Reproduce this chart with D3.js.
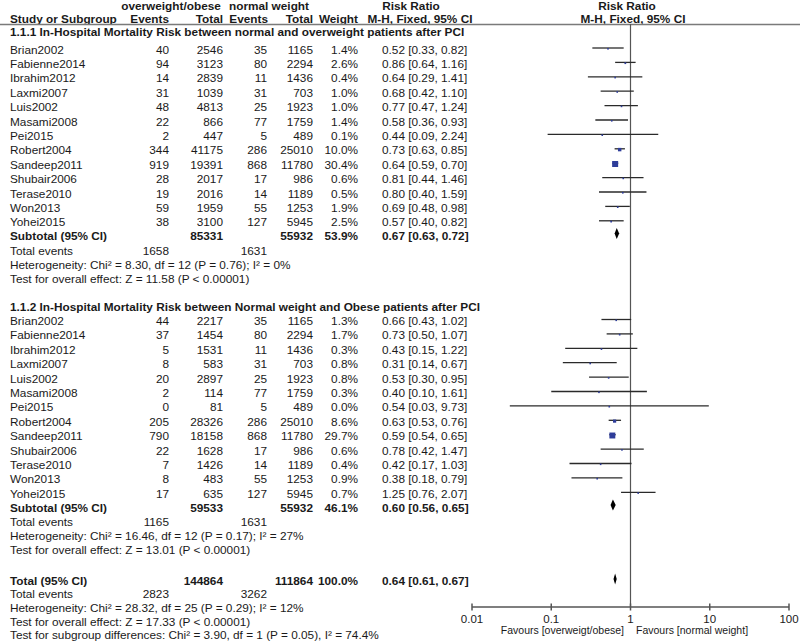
<!DOCTYPE html>
<html><head><meta charset="utf-8">
<script src="https://cdn.jsdelivr.net/npm/d3@7"></script>
<style>
html,body{margin:0;padding:0;background:#fff;}
text{font-family:"Liberation Sans",Arial,sans-serif;fill:#1a1a1a;}
</style></head>
<body><svg id="c" width="800" height="644"></svg>
<script>
const studies = ["Brian2002","Fabienne2014","Ibrahim2012","Laxmi2007","Luis2002","Masami2008","Pei2015","Robert2004","Sandeep2011","Shubair2006","Terase2010","Won2013","Yohei2015"];

const g1Title = "1.1.1 In-Hospital Mortality Risk between normal and overweight patients after PCI";
const g1EventsOw = [40,94,14,31,48,22,2,344,919,28,19,59,38];
const g1TotalOw  = [2546,3123,2839,1039,4813,866,447,41175,19391,2017,2016,1959,3100];
const g1EventsNw = [35,80,11,31,25,77,5,286,868,17,14,55,127];
const g1TotalNw  = [1165,2294,1436,703,1923,1759,489,25010,11780,986,1189,1253,5945];
const g1Weight   = [1.4,2.6,0.4,1.0,1.0,1.4,0.1,10.0,30.4,0.6,0.5,1.9,2.5];
const g1RR = [0.52,0.86,0.64,0.68,0.77,0.58,0.44,0.73,0.64,0.81,0.80,0.69,0.57];
const g1Lo = [0.33,0.64,0.29,0.42,0.47,0.36,0.09,0.63,0.59,0.44,0.40,0.48,0.40];
const g1Hi = [0.82,1.16,1.41,1.10,1.24,0.93,2.24,0.85,0.70,1.46,1.59,0.98,0.82];
const g1Sub = {totOw:85331, totNw:55932, weight:"53.9%", rr:0.67, lo:0.63, hi:0.72, evOw:1658, evNw:1631};
const g1Het = "Heterogeneity: Chi² = 8.30, df = 12 (P = 0.76); I² = 0%";
const g1Test = "Test for overall effect: Z = 11.58 (P < 0.00001)";

const g2Title = "1.1.2 In-Hospital Mortality Risk between Normal weight and Obese patients after PCI";
const g2EventsOw = [44,37,5,8,20,2,0,205,790,22,7,8,17];
const g2TotalOw  = [2217,1454,1531,583,2897,114,81,28326,18158,1628,1426,483,635];
const g2EventsNw = [35,80,11,31,25,77,5,286,868,17,14,55,127];
const g2TotalNw  = [1165,2294,1436,703,1923,1759,489,25010,11780,986,1189,1253,5945];
const g2Weight   = [1.3,1.7,0.3,0.8,0.8,0.3,0.0,8.6,29.7,0.6,0.4,0.9,0.7];
const g2RR = [0.66,0.73,0.43,0.31,0.53,0.40,0.54,0.63,0.59,0.78,0.42,0.38,1.25];
const g2Lo = [0.43,0.50,0.15,0.14,0.30,0.10,0.03,0.53,0.54,0.42,0.17,0.18,0.76];
const g2Hi = [1.02,1.07,1.22,0.67,0.95,1.61,9.73,0.76,0.65,1.47,1.03,0.79,2.07];
const g2Sub = {totOw:59533, totNw:55932, weight:"46.1%", rr:0.60, lo:0.56, hi:0.65, evOw:1165, evNw:1631};
const g2Het = "Heterogeneity: Chi² = 16.46, df = 12 (P = 0.17); I² = 27%";
const g2Test = "Test for overall effect: Z = 13.01 (P < 0.00001)";

const total = {totOw:144864, totNw:111864, weight:"100.0%", rr:0.64, lo:0.61, hi:0.67, evOw:2823, evNw:3262};
const totHet = "Heterogeneity: Chi² = 28.32, df = 25 (P = 0.29); I² = 12%";
const totTest = "Test for overall effect: Z = 17.33 (P < 0.00001)";
const totSub = "Test for subgroup differences: Chi² = 3.90, df = 1 (P = 0.05), I² = 74.4%";

const axisTicks = [0.01,0.1,1,10,100];
const axisTickLabels = ["0.01","0.1","1","10","100"];
const favLeft = "Favours [overweigt/obese]";
const favRight = "Favours [normal weight]";

const svg = d3.select("#c");
const FS = 11.8;
const x = d3.scaleLog().domain([0.01,100]).range([472,789]);
const maxW = 30.4;
const sq = d3.scaleSqrt().domain([0,maxW]).range([0,6]);

const col = {study:10, evOw:169, totOw:223, evNw:267, totNw:313, weight:358, ci:382};
function txt(xp,y,s,anchor,bold,size){
  svg.append("text").attr("x",xp).attr("y",y).attr("dominant-baseline","central")
    .attr("text-anchor",anchor||"start").attr("font-size",size||FS)
    .attr("font-weight",bold?"bold":"normal").text(s);
}
const f2 = d3.format(".2f");
function ciText(r,l,h){return f2(r)+" ["+f2(l)+", "+f2(h)+"]";}

// headers
txt(171,5.5,"overweight/obese","middle",true);
txt(269,5.5,"normal weight","middle",true);
txt(411,5.5,"Risk Ratio","middle",true);
txt(627,5.5,"Risk Ratio","middle",true);
txt(col.study,18.5,"Study or Subgroup","start",true);
txt(col.evOw,18.5,"Events","end",true);
txt(col.totOw,18.5,"Total","end",true);
txt(268,18.5,"Events","end",true);
txt(col.totNw,18.5,"Total","end",true);
txt(col.weight,18.5,"Weight","end",true);
txt(420,18.5,"M-H, Fixed, 95% CI","middle",true);
txt(633,18.5,"M-H, Fixed, 95% CI","middle",true);
svg.append("line").attr("x1",0).attr("x2",800).attr("y1",24.5).attr("y2",24.5)
  .attr("stroke","#7a7a7a").attr("stroke-width",1.5);

// null line
svg.append("line").attr("x1",x(1)).attr("x2",x(1)).attr("y1",24).attr("y2",607)
  .attr("stroke","#555").attr("stroke-width",1.2);

function diamond(y,r,l,h){
  const p = [[x(l),y],[x(r),y-5.5],[x(h),y],[x(r),y+5.5]];
  svg.append("path").attr("d","M"+p.map(d=>d.join(",")).join("L")+"Z").attr("fill","#000");
}

function group(title, yTitle, y0, step, evOw,totOw,evNw,totNw,wt,rr,lo,hi, sub, ySub, het, test){
  txt(col.study,yTitle,title,"start",true);
  studies.forEach((s,i)=>{
    const y = y0 + i*step;
    txt(col.study,y,s);
    txt(col.evOw,y,String(evOw[i]),"end");
    txt(col.totOw,y,String(totOw[i]),"end");
    txt(col.evNw,y,String(evNw[i]),"end");
    txt(col.totNw,y,String(totNw[i]),"end");
    txt(col.weight,y,wt[i].toFixed(1)+"%","end");
    txt(col.ci,y,ciText(rr[i],lo[i],hi[i]));
    const ly = y-1.5;
    svg.append("line").attr("x1",Math.max(x(lo[i]),472)).attr("x2",x(hi[i]))
      .attr("y1",ly).attr("y2",ly).attr("stroke","#2a2a2a").attr("stroke-width",1.3);
    const s2 = Math.max(sq(wt[i]),1.6);
    svg.append("rect").attr("x",x(rr[i])-s2/2).attr("y",ly-s2/2+0.8).attr("width",s2).attr("height",s2)
      .attr("fill","#2e3d9a");
  });
  txt(col.study,ySub,"Subtotal (95% CI)","start",true);
  txt(col.totOw,ySub,String(sub.totOw),"end",true);
  txt(col.totNw,ySub,String(sub.totNw),"end",true);
  txt(col.weight,ySub,sub.weight,"end",true);
  txt(col.ci,ySub,ciText(sub.rr,sub.lo,sub.hi),"start",true);
  diamond(ySub-2.5,sub.rr,sub.lo,sub.hi);
  txt(col.study,ySub+14.5,"Total events");
  txt(col.evOw,ySub+14.5,String(sub.evOw),"end");
  txt(col.evNw,ySub+14.5,String(sub.evNw),"end");
  txt(col.study,ySub+28.5,het);
  txt(col.study,ySub+42.5,test);
}

group(g1Title,32,49.5,14.4,g1EventsOw,g1TotalOw,g1EventsNw,g1TotalNw,g1Weight,g1RR,g1Lo,g1Hi,g1Sub,236,g1Het,g1Test);
group(g2Title,306.5,321,14.4,g2EventsOw,g2TotalOw,g2EventsNw,g2TotalNw,g2Weight,g2RR,g2Lo,g2Hi,g2Sub,507.5,g2Het,g2Test);

// overall
const yT = 580.5;
txt(col.study,yT,"Total (95% CI)","start",true);
txt(col.totOw,yT,String(total.totOw),"end",true);
txt(col.totNw,yT,String(total.totNw),"end",true);
txt(col.weight,yT,total.weight,"end",true);
txt(col.ci,yT,ciText(total.rr,total.lo,total.hi),"start",true);
diamond(yT-1.5,total.rr,total.lo,total.hi);
txt(col.study,yT+13.7,"Total events");
txt(col.evOw,yT+13.7,String(total.evOw),"end");
txt(col.evNw,yT+13.7,String(total.evNw),"end");
txt(col.study,yT+27.4,totHet);
txt(col.study,yT+41.1,totTest);
txt(col.study,yT+54.8,totSub);

// axis
const ax = svg.append("g").attr("transform","translate(0,607)");
ax.append("line").attr("x1",x(0.01)).attr("x2",x(100)).attr("stroke","#555").attr("stroke-width",1.5);
axisTicks.forEach((t,i)=>{
  ax.append("line").attr("x1",x(t)).attr("x2",x(t)).attr("y1",-3.5).attr("y2",3.5)
    .attr("stroke","#555").attr("stroke-width",1.5);
  svg.append("text").attr("x",x(t)).attr("y",618.5).attr("dominant-baseline","central")
    .attr("text-anchor","middle").attr("font-size",11.5).text(axisTickLabels[i]);
});
svg.append("text").attr("x",624).attr("y",629.5).attr("dominant-baseline","central")
  .attr("text-anchor","end").attr("font-size",10.5).text(favLeft);
svg.append("text").attr("x",636).attr("y",629.5).attr("dominant-baseline","central")
  .attr("text-anchor","start").attr("font-size",10.5).text(favRight);
</script></body></html>
